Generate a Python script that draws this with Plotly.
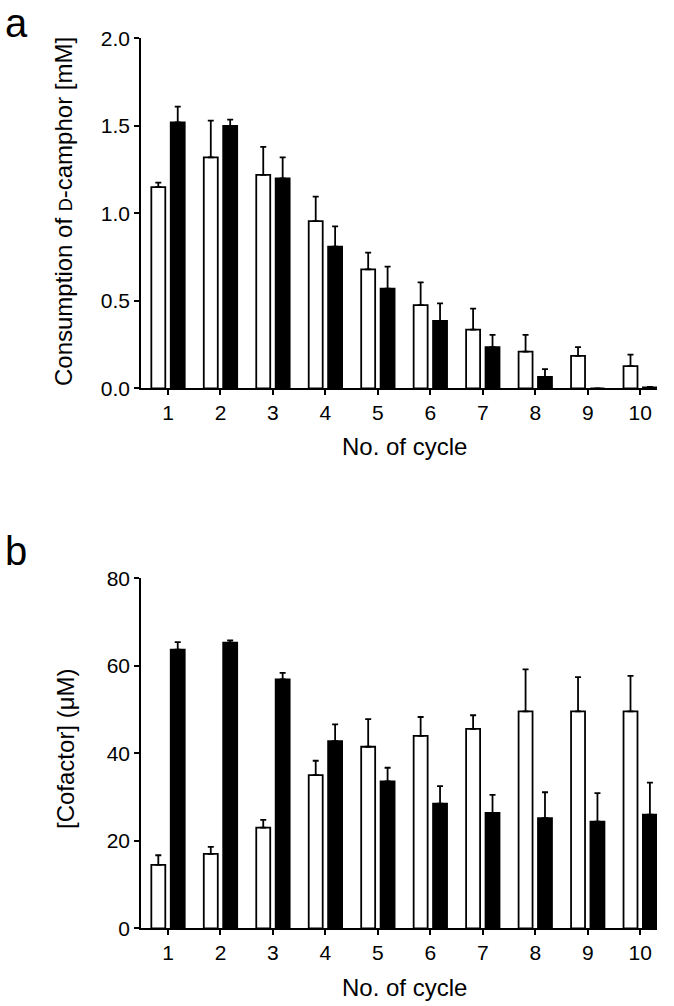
import plotly.graph_objects as go

cycles = list(range(1, 11))

# Panel a: consumption of D-camphor [mM]
camphor_white = [1.15, 1.32, 1.22, 0.955, 0.68, 0.475, 0.335, 0.21, 0.185, 0.127]
camphor_white_err = [0.025, 0.21, 0.16, 0.14, 0.095, 0.13, 0.12, 0.095, 0.05, 0.065]
camphor_black = [1.52, 1.50, 1.20, 0.81, 0.57, 0.385, 0.235, 0.065, 0.0, 0.005]
camphor_black_err = [0.09, 0.035, 0.12, 0.115, 0.125, 0.10, 0.07, 0.045, 0.0, 0.003]

# Panel b: [Cofactor] (uM)
cof_white = [14.5, 17.0, 23.0, 35.0, 41.5, 44.0, 45.6, 49.6, 49.6, 49.6]
cof_white_err = [2.2, 1.6, 1.8, 3.3, 6.3, 4.3, 3.1, 9.6, 7.8, 8.1]
cof_black = [63.7, 65.3, 56.9, 42.8, 33.6, 28.5, 26.4, 25.2, 24.4, 26.0]
cof_black_err = [1.7, 0.5, 1.5, 3.8, 3.1, 4.0, 4.1, 5.9, 6.5, 7.3]

W, H = 674, 1006
FONT = "Liberation Sans, Arial, sans-serif"

def px_x(p):
    return p / W

def px_y(p):
    return 1 - p / H

fig = go.Figure()

def add_pair(white, werr, black, berr, xa, ya):
    zeros = [0] * len(white)
    fig.add_trace(go.Bar(
        x=cycles, y=white, xaxis=xa, yaxis=ya,
        marker=dict(color="white", line=dict(color="black", width=1.8)),
        error_y=dict(type="data", array=werr, arrayminus=zeros, symmetric=False,
                     color="black", thickness=1.8, width=3),
        showlegend=False,
    ))
    fig.add_trace(go.Bar(
        x=cycles, y=black, xaxis=xa, yaxis=ya,
        marker=dict(color="black", line=dict(color="black", width=1.8)),
        error_y=dict(type="data", array=berr, arrayminus=zeros, symmetric=False,
                     color="black", thickness=1.8, width=3),
        showlegend=False,
    ))

add_pair(camphor_white, camphor_white_err, camphor_black, camphor_black_err, "x", "y")
add_pair(cof_white, cof_white_err, cof_black, cof_black_err, "x2", "y2")

xdom = [px_x(141), px_x(657)]
axis_common = dict(showline=True, linecolor="black", linewidth=1.6, ticks="outside",
                   ticklen=5, tickwidth=1.5, tickcolor="black", showgrid=False,
                   zeroline=False, automargin=False,
                   tickfont=dict(family=FONT, size=21, color="black"))

fig.update_layout(
    width=W, height=H,
    margin=dict(l=0, r=0, t=0, b=0),
    paper_bgcolor="white", plot_bgcolor="white",
    barmode="group", bargap=0.26, bargroupgap=0.28,
    xaxis=dict(domain=xdom, range=[0.485, 10.32], tickvals=cycles, anchor="y", **axis_common),
    yaxis=dict(domain=[px_y(388.3), px_y(38.3)], range=[0, 2.0], dtick=0.5, tickformat=".1f",
               anchor="x", **axis_common),
    xaxis2=dict(domain=xdom, range=[0.485, 10.32], tickvals=cycles, anchor="y2", **axis_common),
    yaxis2=dict(domain=[px_y(928.3), px_y(578.3)], range=[0, 80], dtick=20,
                anchor="x2", **axis_common),
    font=dict(family=FONT, color="black"),
)

annotations = [
    dict(text="a", x=px_x(4), y=px_y(0), xanchor="left", yanchor="top", font=dict(size=40),
         borderpad=0),
    dict(text="b", x=px_x(4), y=px_y(528), xanchor="left", yanchor="top", font=dict(size=40),
         borderpad=0),
    dict(text="Consumption of <span style='font-size:18px'>D</span>-camphor [mM]",
         x=px_x(63), y=px_y(212), textangle=-90, xanchor="center", yanchor="middle",
         font=dict(size=24)),
    dict(text="[Cofactor] (μM)", x=px_x(65), y=px_y(749), textangle=-90,
         xanchor="center", yanchor="middle", font=dict(size=24)),
    dict(text="No. of cycle", x=px_x(404), y=px_y(447), xanchor="center", yanchor="middle",
         font=dict(size=24)),
    dict(text="No. of cycle", x=px_x(404), y=px_y(987), xanchor="center", yanchor="middle",
         font=dict(size=24)),
]
for a in annotations:
    a.update(xref="paper", yref="paper", showarrow=False)
    a["font"].update(family=FONT, color="black")
fig.update_layout(annotations=annotations)

fig.write_html("out.html", config={"displayModeBar": False},
               post_script="document.body.style.margin='0px';")
